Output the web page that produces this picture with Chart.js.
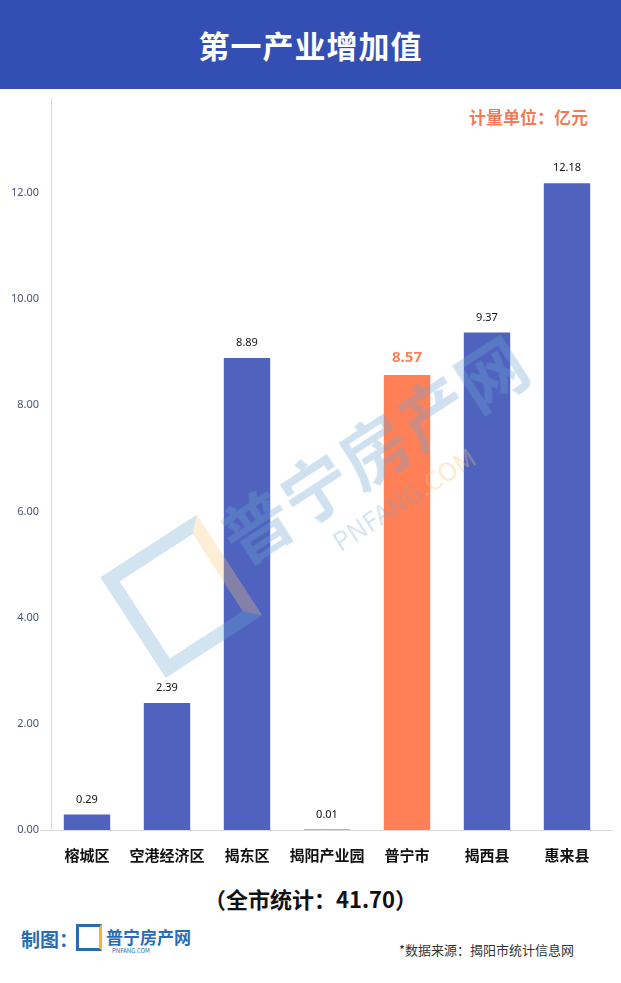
<!DOCTYPE html>
<html>
<head>
<meta charset="utf-8">
<script src="https://cdn.jsdelivr.net/npm/chart.js@4.4.1/dist/chart.umd.min.js"></script>
<style>
  html, body { margin: 0; padding: 0; }
  body { width: 621px; height: 983px; position: relative; overflow: hidden; background: #fff;
         font-family: "Noto Sans CJK SC", "Noto Sans", sans-serif; }
  #header { position: absolute; left: 0; top: 0; width: 621px; height: 89px; background: #334FB4;
            color: #fff; font-size: 31px; font-weight: bold; text-align: center; line-height: 89px; letter-spacing: 1px; }
  #unit { position: absolute; right: 33px; top: 104px; color: #F47A55; font-size: 17px; font-weight: bold; }
  #wrap { position: absolute; left: 0; top: 89px; width: 621px; height: 790px; }
  #total { position: absolute; left: 0; width: 621px; top: 882px; text-align: center; font-size: 22px; font-weight: bold; color: #111; }
  #maker { position: absolute; left: 21px; top: 925px; font-size: 19px; font-weight: bold; color: #2A6CB3; }
  #logo { position: absolute; left: 76px; top: 924px; width: 26px; height: 27px; border: 3px solid #2A6CB3; border-right-color: #F6B533; box-sizing: border-box; }
  #logoText { position: absolute; left: 106px; top: 924px; font-size: 17px; font-weight: bold; color: #2A6CB3; }
  #logoSub { position: absolute; left: 112px; top: 946px; font-size: 6px; color: #2A6CB3; }
  #source { position: absolute; left: 399px; top: 940px; font-size: 13px; color: #333; }
  #wm { position: absolute; left: 110px; top: 430px; width: 420px; height: 200px; transform: rotate(-33deg); transform-origin: center; pointer-events: none; }
  #wm .cn { position: absolute; left: 125px; top: 10px; font-size: 68px; font-weight: bold; color: rgba(110,165,210,0.33); letter-spacing: 2px; white-space: nowrap; }
  #wm .en { position: absolute; left: 215px; top: 100px; font-size: 26px; color: rgba(110,165,210,0.3); white-space: nowrap; }
  #wm .en span { color: rgba(250,195,110,0.35); }
  #wm .box { position: absolute; left: 0; top: 20px; width: 115px; height: 120px; border: 14px solid rgba(110,165,210,0.3); border-right-color: rgba(250,200,120,0.3); box-sizing: border-box; }
</style>
</head>
<body>
<div id="header">第一产业增加值</div>
<div id="wrap"><canvas id="chart"></canvas></div>
<div id="unit">计量单位：亿元</div>
<div id="wm"><div class="box"></div><div class="cn">普宁房产网</div><div class="en">PNFANG<span>.COM</span></div></div>
<div id="total">（全市统计：41.70）</div>
<div id="maker">制图：</div>
<div id="logo"></div>
<div id="logoText">普宁房产网</div>
<div id="logoSub">PNFANG.COM</div>
<div id="source">*数据来源：揭阳市统计信息网</div>
<script>
const categories = ['榕城区', '空港经济区', '揭东区', '揭阳产业园', '普宁市', '揭西县', '惠来县'];
const values = [0.29, 2.39, 8.89, 0.01, 8.57, 9.37, 12.18];
const yTicks = [0, 2, 4, 6, 8, 10, 12];
const highlight = '普宁市';

const blue = '#4F63BE';
const orange = '#FF7F56';
const colors = categories.map(c => c === highlight ? orange : blue);

const valueLabels = {
  id: 'valueLabels',
  afterDatasetsDraw(chart) {
    const ctx = chart.ctx;
    const meta = chart.getDatasetMeta(0);
    ctx.save();
    ctx.textAlign = 'center';
    ctx.textBaseline = 'middle';
    meta.data.forEach((bar, i) => {
      if (categories[i] === highlight) {
        ctx.fillStyle = orange;
        ctx.font = 'bold 15px "Noto Sans", sans-serif';
        ctx.fillText(values[i].toFixed(2), bar.x, bar.y - 17);
      } else {
        ctx.fillStyle = '#111';
        ctx.font = '11px "Noto Sans", sans-serif';
        ctx.fillText(values[i].toFixed(2), bar.x, bar.y - 15);
      }
    });
    ctx.restore();
  }
};

const axisLines = {
  id: 'axisLines',
  afterDraw(chart) {
    const ctx = chart.ctx;
    const y = chart.scales.y.getPixelForValue(0);
    ctx.save();
    ctx.strokeStyle = '#D9D9D9';
    ctx.lineWidth = 1;
    ctx.beginPath();
    ctx.moveTo(40, y + 0.5);
    ctx.lineTo(613, y + 0.5);
    ctx.moveTo(51.5, 9);
    ctx.lineTo(51.5, y);
    ctx.stroke();
    ctx.restore();
  }
};

new Chart(document.getElementById('chart'), {
  type: 'bar',
  data: {
    labels: categories,
    datasets: [{
      data: values,
      backgroundColor: colors,
      barPercentage: 0.58,
      categoryPercentage: 1
    }]
  },
  options: {
    responsive: true,
    maintainAspectRatio: false,
    animation: false,
    layout: { padding: { top: 1.5, right: 14, left: 0, bottom: 0 } },
    plugins: { legend: { display: false }, tooltip: { enabled: false } },
    scales: {
      x: {
        grid: { display: false, drawTicks: false },
        border: { display: false },
        ticks: { color: '#111', padding: 16, maxRotation: 0, minRotation: 0, autoSkip: false,
                 font: { size: 15, weight: 'bold', family: '"Noto Sans CJK SC", sans-serif' } },
        afterFit(scale) { scale.height = 49; }
      },
      y: {
        min: 0,
        max: 13.68,
        grid: { display: false, drawTicks: false },
        border: { display: false },
        afterBuildTicks(scale) { scale.ticks = yTicks.map(v => ({ value: v })); },
        ticks: {
          color: '#4A5470',
          padding: 8,
          font: { size: 11, family: '"Noto Sans", sans-serif' },
          callback: v => Number(v).toFixed(2)
        },
        afterFit(scale) { scale.width = 47; }
      }
    }
  },
  plugins: [valueLabels, axisLines]
});
</script>
</body>
</html>
